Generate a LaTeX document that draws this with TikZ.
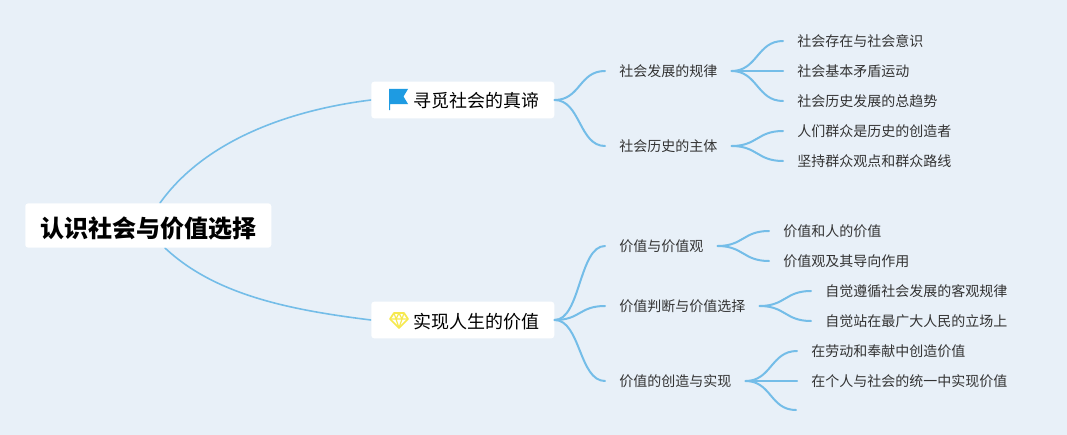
\documentclass[tikz,border=0pt]{standalone}
\usepackage{fontspec}
\setmainfont{Noto Sans CJK SC}
\definecolor{bgc}{HTML}{E8F0F8}
\definecolor{linkc}{HTML}{74BDE8}
\definecolor{leafc}{HTML}{333333}
\definecolor{flagc}{HTML}{1E9BE2}
\definecolor{gemc}{HTML}{F6E94E}
\tikzset{
  rootbox/.style={fill=white,rounded corners=2.2pt,text=black,font=\fontsize{18}{20}\selectfont\bfseries,inner xsep=11.25pt,inner ysep=0pt,text height=19.5pt,text depth=2pt,minimum height=33.25pt,anchor=west},
  branchbox/.style={fill=white,rounded corners=2.2pt,text=black,font=\fontsize{13.5}{16}\selectfont,inner xsep=11pt,inner ysep=0pt,text height=13.5pt,text depth=1.5pt,minimum height=27.5pt,anchor=west},
  leafnode/.style={text=leafc,font=\fontsize{10.5}{12}\selectfont,inner xsep=10.5pt,inner ysep=0pt,text height=10.2pt,text depth=1.7pt,anchor=west},
  link/.style={draw=linkc,line width=1.5pt,line cap=round},
  bigl/.style={draw=linkc,line width=1.2pt,line cap=round},
  cv/.style={to path={.. controls +(26,0) and +(-26,0) .. (\tikztotarget)}}
}
\begin{document}
\begin{tikzpicture}[x=0.75pt,y=-0.75pt]
\useasboundingbox (0,0) rectangle (1067,435);
\fill[bgc] (0,0) rectangle (1067,435);
% free ends and start points
\coordinate (r1) at (160,203);
\coordinate (r2) at (165,248);
\coordinate (empty) at (796,410);
% main connectors
\draw[bigl] (r1) .. controls (205,140) and (290,110) .. (371,100);
\draw[bigl] (r2) .. controls (215,295) and (290,310) .. (371,320);
% nodes
\node[rootbox] (root) at (25,225.5) {认识社会与价值选择};
\node[branchbox] (b1) at (371,100) {\hspace{20.75pt}寻觅社会的真谛};
\node[branchbox] (b2) at (371,320) {\hspace{20.75pt}实现人生的价值};
\node[leafnode] (a1) at (605,71) {社会发展的规律};
\node[leafnode] (a2) at (605,146) {社会历史的主体};
\node[leafnode] (c1) at (605,246) {价值与价值观};
\node[leafnode] (c2) at (605,306) {价值判断与价值选择};
\node[leafnode] (c3) at (605,381) {价值的创造与实现};
\node[leafnode] (a11) at (783,41) {社会存在与社会意识};
\node[leafnode] (a12) at (783,71) {社会基本矛盾运动};
\node[leafnode] (a13) at (783,101) {社会历史发展的总趋势};
\node[leafnode] (a21) at (783,131) {人们群众是历史的创造者};
\node[leafnode] (a22) at (783,161) {坚持群众观点和群众路线};
\node[leafnode] (c11) at (769,231) {价值和人的价值};
\node[leafnode] (c12) at (769,261) {价值观及其导向作用};
\node[leafnode] (c21) at (811,291) {自觉遵循社会发展的客观规律};
\node[leafnode] (c22) at (811,321) {自觉站在最广大人民的立场上};
\node[leafnode] (c31) at (797,351) {在劳动和奉献中创造价值};
\node[leafnode] (c32) at (797,381) {在个人与社会的统一中实现价值};
% connectors
\foreach \p/\c in {b1/a1,b1/a2,b2/c1,b2/c2,b2/c3,a1/a11,a1/a12,a1/a13,a2/a21,a2/a22,c1/c11,c1/c12,c2/c21,c2/c22,c3/c31,c3/c32}
  \draw[link] (\p.east) to[cv] (\c.west);
\draw[link] (c3.east) to[cv] (empty);
% flag icon
\fill[flagc] (389,89) -- (408,89) -- (403.5,96.5) -- (408,104) -- (390.2,104) -- (390.2,110) -- (389,110) -- cycle;
% gem icon
\begin{scope}[draw=gemc,line width=1.3pt,line join=round]
\draw (394,313) -- (404,313) -- (408,319) -- (399,328) -- (390,319) -- cycle;
\draw[line width=.9pt] (390,319) -- (408,319) (394,313) -- (396,319) -- (399,328) -- (402,319) -- (404,313) (396,319) -- (399,313) -- (402,319);
\end{scope}
\end{tikzpicture}
\end{document}
